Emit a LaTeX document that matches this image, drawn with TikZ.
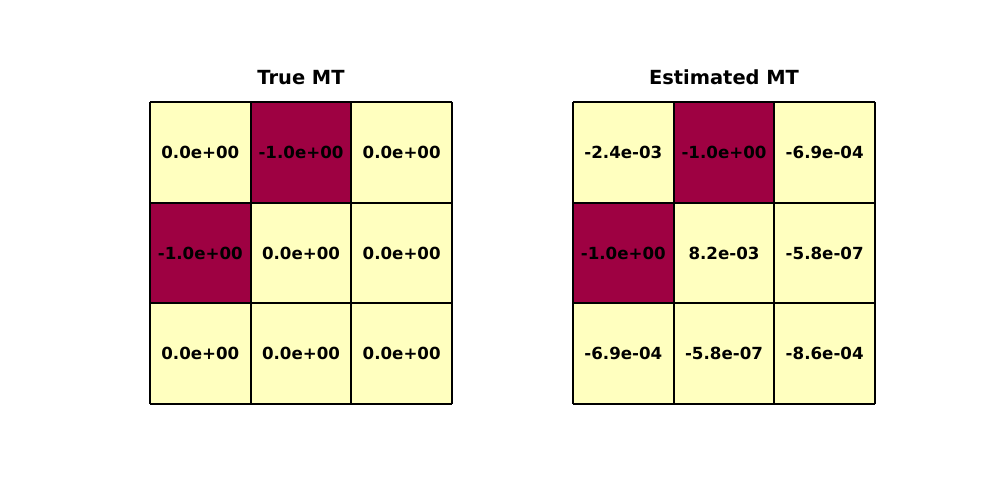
\documentclass[tikz,border=0pt]{standalone}
\usepackage{fontspec}
\setmainfont{DejaVu Sans}
\usetikzlibrary{positioning}
\definecolor{mtlow}{HTML}{9E0142}
\definecolor{mthigh}{HTML}{FFFFBF}

\begin{document}
\begin{tikzpicture}[x=1pt, y=-1pt,
    cell/.style={minimum size=100.67pt, inner sep=0pt, outer sep=0pt, anchor=north west, font=\fontsize{16.67}{20}\selectfont\bfseries},
    neg/.style={cell, fill=mtlow},
    zero/.style={cell, fill=mthigh},
    grid line/.style={line width=2pt},
    heading/.style={font=\fontsize{19.44}{23}\selectfont\bfseries}]
                    \useasboundingbox (0, 0) rectangle (1000, 500);

                    % true MT
                    \node[zero] (T11) at (150, 102) {0.0e+00};
                    \node[neg] (T12) at (250.67, 102) {-1.0e+00};
                    \node[zero] (T13) at (351.33, 102) {0.0e+00};
                    \node[neg] (T21) at (150, 202.67) {-1.0e+00};
                    \node[zero] (T22) at (250.67, 202.67) {0.0e+00};
                    \node[zero] (T23) at (351.33, 202.67) {0.0e+00};
                    \node[zero] (T31) at (150, 303.33) {0.0e+00};
                    \node[zero] (T32) at (250.67, 303.33) {0.0e+00};
                    \node[zero] (T33) at (351.33, 303.33) {0.0e+00};

                    % estimated MT
                    \node[zero] (E11) at (573, 102) {-2.4e-03};
                    \node[neg] (E12) at (673.67, 102) {-1.0e+00};
                    \node[zero] (E13) at (774.33, 102) {-6.9e-04};
                    \node[neg] (E21) at (573, 202.67) {-1.0e+00};
                    \node[zero] (E22) at (673.67, 202.67) {8.2e-03};
                    \node[zero] (E23) at (774.33, 202.67) {-5.8e-07};
                    \node[zero] (E31) at (573, 303.33) {-6.9e-04};
                    \node[zero] (E32) at (673.67, 303.33) {-5.8e-07};
                    \node[zero] (E33) at (774.33, 303.33) {-8.6e-04};

                    % grid lines
                    \foreach \m in {T, E} {
                        \foreach \i in {1, 2, 3} {
                            \draw[grid line] (\m1\i.north west) -- (\m3\i.south west);
                            \draw[grid line] (\m\i1.north west) -- (\m\i3.north east);
                        }
                        \draw[grid line] (\m13.north east) -- (\m33.south east);
                        \draw[grid line] (\m31.south west) -- (\m33.south east);
                    }

                    \node[heading, above = 14pt of T12] (Ttitle) {True MT};
                    \node[heading, above = 14pt of E12] (Etitle) {Estimated MT};
            \end{tikzpicture}
\end{document}
